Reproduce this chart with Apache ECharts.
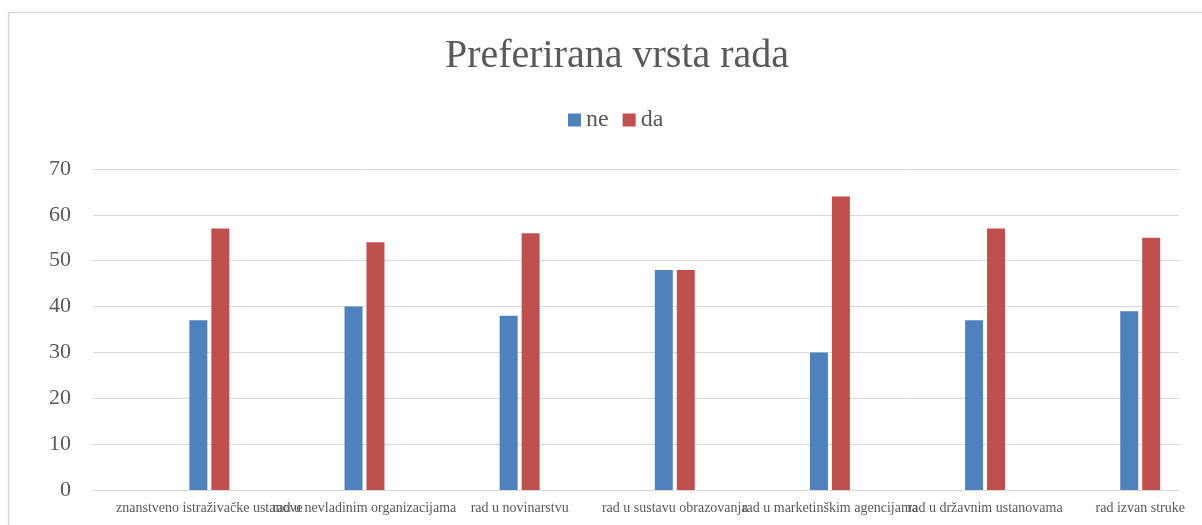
<!DOCTYPE html>
<html>
<head>
    <meta charset="utf-8" />
    <title>Preferirana vrsta rada</title>
    <script src="https://cdn.jsdelivr.net/npm/echarts@6/dist/echarts.min.js"></script>
</head>
<body style="margin:0;">
<div id="main" style="width: 1202px;height:525px;"></div>
<script type="text/javascript">
    // podaci
    var kategorije = ['znanstveno istraživačke ustanove', 'rad u nevladinim organizacijama', 'rad u novinarstvu',
        'rad u sustavu obrazovanja', 'rad u marketinškim agencijama', 'rad u državnim ustanovama', 'rad izvan struke'];
    var ne = [37, 40, 38, 48, 30, 37, 39];
    var da = [57, 54, 56, 48, 64, 57, 55];

    // u originalu svaka kategorija ima prazan stupac ispred sebe
    var osX = [], neX = [], daX = [];
    for (var i = 0; i < kategorije.length; i++) {
        osX.push('', kategorije[i]);
        neX.push('-', ne[i]);
        daX.push('-', da[i]);
    }

    var font = 'Liberation Serif';
    var myChart = echarts.init(document.getElementById('main'));
    var option = {
        animation: false,
        color: ['#4F81BD', '#C0504D'],
        title: {
            text: 'Preferirana vrsta rada',
            left: 612,
            textAlign: 'center',
            top: 31,
            textStyle: { fontFamily: font, fontSize: 40, fontWeight: 'normal', color: '#595959' }
        },
        legend: {
            top: 103,
            left: 563,
            itemWidth: 13,
            itemHeight: 13,
            itemGap: 14,
            icon: 'rect',
            textStyle: { fontFamily: font, fontSize: 24, color: '#595959' },
            data: ['ne', 'da']
        },
        grid: { left: 93, right: 23, top: 169, bottom: 35 },
        xAxis: {
            type: 'category',
            data: osX,
            axisLine: { lineStyle: { color: '#d9d9d9' } },
            axisTick: { interval: 0, length: 4, lineStyle: { color: '#d9d9d9' } },
            axisLabel: { interval: 0, margin: 11, fontFamily: font, fontSize: 14, color: '#595959' }
        },
        yAxis: {
            type: 'value',
            min: 0,
            max: 70,
            interval: 10,
            axisLine: { show: false },
            axisTick: { show: false },
            splitLine: { lineStyle: { color: '#d9d9d9' } },
            axisLabel: { margin: 22, fontFamily: font, fontSize: 22, color: '#595959' }
        },
        series: [
            { name: 'ne', type: 'bar', data: neX, barWidth: 18, barGap: '22%' },
            { name: 'da', type: 'bar', data: daX, barWidth: 18, barGap: '22%' }
        ],
        graphic: [{
            type: 'rect',
            shape: { x: 8.5, y: 12.5, width: 1200, height: 520 },
            style: { fill: 'none', stroke: '#d9d9d9', lineWidth: 1.5 },
            silent: true
        }]
    };
    myChart.setOption(option);
</script>
</body>
</html>
